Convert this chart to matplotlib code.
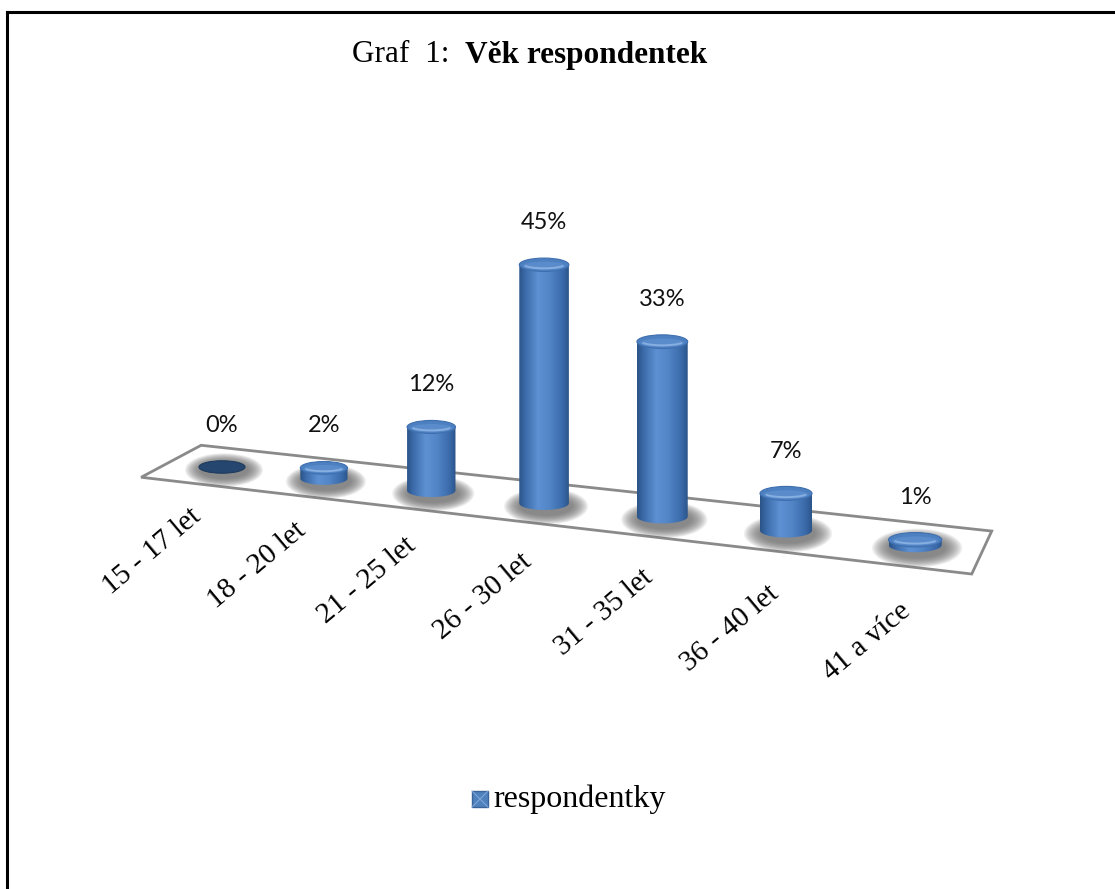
import numpy as np
import matplotlib
matplotlib.use("Agg")
import matplotlib.pyplot as plt
from matplotlib.patches import Ellipse, Polygon, PathPatch, Rectangle
from matplotlib.path import Path
from matplotlib.colors import LinearSegmentedColormap
from matplotlib import font_manager as fm

# ---------------- data ----------------
categories = ["15 - 17 let", "18 - 20 let", "21 - 25 let", "26 - 30 let",
              "31 - 35 let", "36 - 40 let", "41 a více"]
values = [0, 2, 12, 45, 33, 7, 1]
value_labels = [f"{v}%" for v in values]
series_name = "respondentky"
title_normal = "Graf  1:  "
title_bold = "Věk respondentek"

# ---------------- layout ----------------
W, H = 1115, 889
fig = plt.figure(figsize=(W / 100, H / 100), dpi=100)
ax = fig.add_axes([0, 0, 1, 1])
ax.set_xlim(0, W)
ax.set_ylim(H, 0)
ax.axis("off")

PX_PER_PCT = 5.3
serif_fp = fm.FontProperties(family="Liberation Serif", size=21)


def center_xy(i):
    """project category position i (floor centre line) to pixel coordinates"""
    x = 222 + 99.2 * i + 2.72 * i * i
    y = 467 + 0.1126 * (x - 222)
    return x, y


def depth_vec(i):
    t = i + 0.52
    return 30 - 2.85 * t, -16 - 0.78 * t   # half depth, toward the back


def bar_width(i):
    return 46 + 1.2 * i


# outer frame (left and top edges visible)
ax.plot([7, 7], [H + 5, 12], color="black", lw=2.2, solid_capstyle="projecting")
ax.plot([7, W + 5], [12, 12], color="black", lw=2.2, solid_capstyle="projecting")

# floor
i_left, i_right = -0.52, 6.5
pts = []
for ii, sgn in [(i_left, 1), (i_right, 1), (i_right, -1), (i_left, -1)]:
    cx, cy = center_xy(ii)
    dx, dy = depth_vec(ii)
    pts.append((cx + sgn * dx, cy + sgn * dy))
ax.add_patch(Polygon(pts, closed=True, facecolor="white", edgecolor="#8a8a8a",
                     lw=2.0, zorder=1))

body_cmap = LinearSegmentedColormap.from_list(
    "body", [(0.0, "#2a5386"), (0.12, "#3b6aa8"), (0.38, "#5d91d3"),
             (0.62, "#5185c6"), (0.88, "#3a69a9"), (1.0, "#2b5589")])
grad = np.linspace(0, 1, 256).reshape(1, -1)

for i, v in enumerate(values):
    cx, cy = center_xy(i)
    w = bar_width(i)
    eh = 0.27 * w
    top = cy - v * PX_PER_PCT
    # soft shadow
    for k in range(16):
        f = 1 - k / 16
        ax.add_patch(Ellipse((cx + 2, cy + 3), w * (1.0 + 0.7 * f), eh * (1.3 + 1.4 * f),
                             facecolor="#6a6a6a", edgecolor="none", alpha=0.085, zorder=2))
    if v == 0:
        ax.add_patch(Ellipse((cx, cy), w, eh, facecolor="#24466f",
                             edgecolor="#1e3b5e", lw=0.8, zorder=3))
        continue
    xl, xr = cx - w / 2, cx + w / 2
    th = np.linspace(np.pi, 2 * np.pi, 60)
    arc_x = cx + (w / 2) * np.cos(th)
    arc_y = cy - (eh / 2) * np.sin(th)
    verts = [(xl, top)] + list(zip(arc_x, arc_y)) + [(xr, top), (xl, top)]
    patch = PathPatch(Path(verts), facecolor="none", edgecolor="none", zorder=3)
    ax.add_patch(patch)
    im = ax.imshow(grad, cmap=body_cmap, extent=[xl, xr, cy + eh / 2 + 1, top],
                   aspect="auto", zorder=3, interpolation="bicubic")
    im.set_clip_path(patch)
    ax.add_patch(Ellipse((cx, top), w, eh, facecolor="#4d80c1",
                         edgecolor="#3f6fae", lw=0.8, zorder=4))
    ax.add_patch(Ellipse((cx, top + eh * 0.08), w * 0.86, eh * 0.62, facecolor="#5a8ccc",
                         edgecolor="none", zorder=4))
    tt = np.linspace(np.pi * 1.15, np.pi * 1.85, 40)
    ax.plot(cx + 0.42 * w * np.cos(tt), top - 0.3 * eh * np.sin(tt) - 0.5,
            color="#86aee0", lw=1.4, zorder=5, solid_capstyle="round")

# value labels
for i, v in enumerate(values):
    cx, cy = center_xy(i)
    top = cy - v * PX_PER_PCT
    ax.text(cx, top - 42, value_labels[i], ha="center", va="center",
            fontsize=17, family="Lato", color="#111111", zorder=6)

# category labels
for i, c in enumerate(categories):
    cx, cy = center_xy(i)
    dx, dy = depth_vec(i)
    fx, fy = cx - dx, cy - dy
    ax.text(fx + 4, fy + 30 + 2 * i, c, ha="right", va="center", rotation=40,
            rotation_mode="anchor", fontproperties=serif_fp,
            color="black", zorder=6)

# title
ax.text(465, 55, title_normal, ha="right", va="center", fontsize=22.5,
        family="Liberation Serif", color="black")
ax.text(465, 55, title_bold, ha="left", va="center", fontsize=22.5,
        family="Liberation Serif", fontweight="bold", color="black")

# legend
ax.add_patch(Rectangle((472, 791), 16, 16, facecolor="#4f81bd", edgecolor="#3a659a", lw=1))
ax.plot([472, 488], [791, 807], color="#7fa6d8", lw=0.8)
ax.plot([472, 488], [807, 791], color="#7fa6d8", lw=0.8)
ax.text(493, 799, series_name, ha="left", va="center", fontsize=23,
        family="Liberation Serif", color="black")

fig.savefig("out.png", dpi=100)
